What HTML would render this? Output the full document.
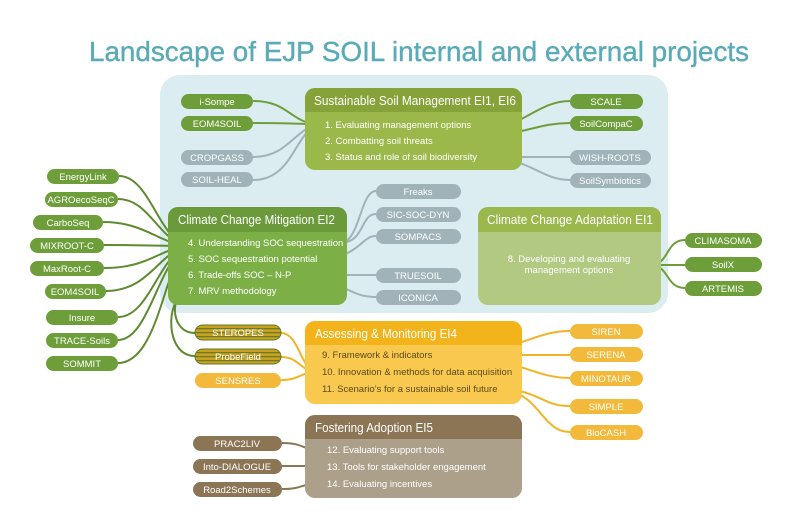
<!DOCTYPE html>
<html><head><meta charset="utf-8"><style>
html,body{margin:0;padding:0;background:#fff}
svg{display:block;font-family:"Liberation Sans",sans-serif}
.p{font-size:9.5px;fill:#fff;text-anchor:middle}
.h{font-size:13px;fill:#fff}
.i{font-size:9.5px;fill:#fff}
.iy{font-size:9.5px;fill:#5a4a20}
path.c{fill:none;stroke-width:2}
</style></head><body>
<svg width="800" height="532" viewBox="0 0 800 532">
<text x="89" y="61" font-size="28" fill="#5aabb7" stroke="#5aabb7" stroke-width="0.4" textLength="660" lengthAdjust="spacingAndGlyphs">Landscape of EJP SOIL internal and external projects</text>
<rect x="160" y="75" width="508" height="238" rx="20" fill="#dcedf2"/>

<g class="lines">
<path class="c" stroke="#6e9e3a" d="M253,101 C290,101 290,124 320,124"/>
<path class="c" stroke="#6e9e3a" d="M253,123 C285,123 295,124 320,124"/>
<path class="c" stroke="#9fb3b9" d="M253,157 C290,157 295,126 320,125"/>
<path class="c" stroke="#9fb3b9" d="M253,180 C295,180 295,127 320,126"/>
<path class="c" stroke="#6e9e3a" d="M420,141 C520,141 530,101 570,101"/>
<path class="c" stroke="#6e9e3a" d="M420,141 C520,141 530,123 570,123"/>
<path class="c" stroke="#9fb3b9" d="M483,157 L570,157"/>
<path class="c" stroke="#9fb3b9" d="M483,157 C530,157 540,180 570,180"/>
<path class="c" stroke="#9fb3b9" d="M340,243 C360,243 360,191 376,191"/>
<path class="c" stroke="#9fb3b9" d="M340,243 C365,243 360,214 376,214"/>
<path class="c" stroke="#9fb3b9" d="M316,259 C360,259 360,236 376,236"/>
<path class="c" stroke="#9fb3b9" d="M290,275 L376,275"/>
<path class="c" stroke="#9fb3b9" d="M290,275 C340,275 345,297 376,297"/>
<g stroke="#5f8a30">
<path class="c" d="M119,176 C150,176 160,242 186,243"/>
<path class="c" d="M118,199 C150,199 160,243 186,244"/>
<path class="c" d="M103,222 C145,222 160,244 186,245"/>
<path class="c" d="M104,245 C150,245 160,246 186,246"/>
<path class="c" d="M104,268 C150,268 160,248 186,247"/>
<path class="c" d="M106,291 C150,291 160,250 186,248"/>
<path class="c" d="M118,317 C150,317 160,252 186,250"/>
<path class="c" d="M118,340 C150,340 160,254 186,252"/>
<path class="c" d="M118,363 C160,363 165,256 186,254"/>
<path class="c" d="M186,290 C170,295 170,333 195,333"/>
<path class="c" d="M186,291 C165,300 165,356 195,356"/>
</g>
<path class="c" stroke="#6e9e3a" d="M650,265 C670,265 665,240 685,240"/>
<path class="c" stroke="#6e9e3a" d="M650,265 L685,265"/>
<path class="c" stroke="#6e9e3a" d="M650,265 C670,265 665,288 685,288"/>
<g stroke="#f0b428">
<path class="c" d="M281,333 C300,333 300,372 318,372"/>
<path class="c" d="M281,357 C300,357 300,372 318,372"/>
<path class="c" d="M281,380 C300,380 300,372 318,372"/>
<path class="c" d="M432,355 C520,355 530,331 570,331"/>
<path class="c" d="M432,355 L570,355"/>
<path class="c" d="M432,355 C520,355 530,378 570,378"/>
<path class="c" d="M496,389 C540,389 540,406 570,406"/>
<path class="c" d="M496,389 C540,389 540,432 570,432"/>
</g>
<g stroke="#8b7555">
<path class="c" d="M282,443 C305,443 300,450 325,450"/>
<path class="c" d="M282,466 L325,466"/>
<path class="c" d="M282,489 C305,489 300,483 325,483"/>
</g>
</g>

<rect x="305" y="88" width="217" height="82" rx="10" fill="#9bb84a"/>
<path d="M305,112 V98 a10,10 0 0 1 10,-10 H512 a10,10 0 0 1 10,10 V112 Z" fill="#86a33a"/>
<text x="314" y="105" class="h" textLength="202" lengthAdjust="spacingAndGlyphs">Sustainable Soil Management EI1, EI6</text>
<text x="325" y="128" class="i">1. Evaluating management options</text>
<text x="325" y="144" class="i">2. Combatting soil threats</text>
<text x="325" y="160" class="i">3. Status and role of soil biodiversity</text>

<rect x="168" y="207" width="179" height="98" rx="10" fill="#7cb047"/>
<path d="M168,232 V217 a10,10 0 0 1 10,-10 H337 a10,10 0 0 1 10,10 V232 Z" fill="#6a9a3a"/>
<text x="178" y="224" class="h" textLength="157" lengthAdjust="spacingAndGlyphs">Climate Change Mitigation EI2</text>
<text x="188" y="246" class="i">4. Understanding SOC sequestration</text>
<text x="188" y="262" class="i">5. SOC sequestration potential</text>
<text x="188" y="278" class="i">6. Trade-offs SOC – N-P</text>
<text x="188" y="294" class="i">7. MRV methodology</text>

<rect x="478" y="207" width="183" height="98" rx="10" fill="#b2c982"/>
<path d="M478,232 V217 a10,10 0 0 1 10,-10 H651 a10,10 0 0 1 10,10 V232 Z" fill="#9ab84c"/>
<text x="487" y="224" class="h" textLength="166" lengthAdjust="spacingAndGlyphs">Climate Change Adaptation EI1</text>
<text x="569" y="262" class="i" text-anchor="middle">8. Developing and evaluating</text>
<text x="569" y="273" class="i" text-anchor="middle">management options</text>

<rect x="305" y="321" width="217" height="83" rx="10" fill="#f8c94e"/>
<path d="M305,345 V331 a10,10 0 0 1 10,-10 H512 a10,10 0 0 1 10,10 V345 Z" fill="#f3b41b"/>
<text x="315" y="338" class="h" textLength="142" lengthAdjust="spacingAndGlyphs">Assessing &amp; Monitoring EI4</text>
<text x="322" y="358" class="iy">9. Framework &amp; indicators</text>
<text x="322" y="375" class="iy">10. Innovation &amp; methods for data acquisition</text>
<text x="322" y="392" class="iy">11. Scenario’s for a sustainable soil future</text>

<rect x="305" y="415" width="217" height="83" rx="10" fill="#ada08a"/>
<path d="M305,439 V425 a10,10 0 0 1 10,-10 H512 a10,10 0 0 1 10,10 V439 Z" fill="#8b7555"/>
<text x="315" y="432" class="h" textLength="118" lengthAdjust="spacingAndGlyphs">Fostering Adoption EI5</text>
<text x="327" y="453" class="i">12. Evaluating support tools</text>
<text x="327" y="470" class="i">13. Tools for stakeholder engagement</text>
<text x="327" y="487" class="i">14. Evaluating incentives</text>

<defs>
<pattern id="st" width="4" height="4" patternUnits="userSpaceOnUse">
<rect width="4" height="4" fill="#c8a21e"/><rect width="4" height="1.3" fill="#6e7a2a"/>
</pattern>
</defs>

<g fill="#6e9e3a">
<rect x="181" y="94" width="72" height="15" rx="7.5"/>
<rect x="181" y="116" width="72" height="15" rx="7.5"/>
<rect x="570" y="94" width="73" height="15" rx="7.5"/>
<rect x="570" y="116" width="73" height="15" rx="7.5"/>
<rect x="47" y="169" width="72" height="15" rx="7.5"/>
<rect x="45" y="192" width="73" height="15" rx="7.5"/>
<rect x="33" y="215" width="70" height="15" rx="7.5"/>
<rect x="30" y="238" width="74" height="15" rx="7.5"/>
<rect x="30" y="261" width="74" height="15" rx="7.5"/>
<rect x="45" y="284" width="61" height="15" rx="7.5"/>
<rect x="46" y="310" width="72" height="15" rx="7.5"/>
<rect x="46" y="333" width="72" height="15" rx="7.5"/>
<rect x="46" y="356" width="72" height="15" rx="7.5"/>
<rect x="685" y="233" width="77" height="15" rx="7.5"/>
<rect x="685" y="257" width="77" height="15" rx="7.5"/>
<rect x="685" y="281" width="77" height="15" rx="7.5"/>
</g>
<g fill="#9fb3b9">
<rect x="181" y="150" width="72" height="15" rx="7.5"/>
<rect x="181" y="172" width="72" height="15" rx="7.5"/>
<rect x="570" y="150" width="81" height="15" rx="7.5"/>
<rect x="570" y="173" width="81" height="15" rx="7.5"/>
<rect x="376" y="184" width="85" height="15" rx="7.5"/>
<rect x="376" y="207" width="85" height="15" rx="7.5"/>
<rect x="376" y="229" width="85" height="15" rx="7.5"/>
<rect x="376" y="268" width="85" height="15" rx="7.5"/>
<rect x="376" y="290" width="85" height="15" rx="7.5"/>
</g>
<rect x="195" y="325" width="86" height="15" rx="7.5" fill="url(#st)" stroke="#5f7a2a"/>
<rect x="195" y="349" width="86" height="15" rx="7.5" fill="url(#st)" stroke="#5f7a2a"/>
<g fill="#f3b93a">
<rect x="195" y="373" width="86" height="15" rx="7.5"/>
<rect x="570" y="324" width="73" height="15" rx="7.5"/>
<rect x="570" y="347" width="73" height="15" rx="7.5"/>
<rect x="570" y="371" width="73" height="15" rx="7.5"/>
<rect x="570" y="399" width="73" height="15" rx="7.5"/>
<rect x="570" y="425" width="73" height="15" rx="7.5"/>
</g>
<g fill="#8b7555">
<rect x="193" y="436" width="89" height="15" rx="7.5"/>
<rect x="193" y="459" width="89" height="15" rx="7.5"/>
<rect x="193" y="482" width="89" height="15" rx="7.5"/>
</g>
<g>
<text class="p" x="217" y="105">i-Sompe</text>
<text class="p" x="217" y="127">EOM4SOIL</text>
<text class="p" x="217" y="161">CROPGASS</text>
<text class="p" x="217" y="183">SOIL-HEAL</text>
<text class="p" x="606" y="105">SCALE</text>
<text class="p" x="606" y="127">SoilCompaC</text>
<text class="p" x="610" y="161">WISH-ROOTS</text>
<text class="p" x="610" y="184">SoilSymbiotics</text>
<text class="p" x="418" y="195">Freaks</text>
<text class="p" x="418" y="218">SIC-SOC-DYN</text>
<text class="p" x="418" y="240">SOMPACS</text>
<text class="p" x="418" y="279">TRUESOIL</text>
<text class="p" x="418" y="301">ICONICA</text>
<text class="p" x="83" y="180">EnergyLink</text>
<text class="p" x="81" y="203">AGROecoSeqC</text>
<text class="p" x="68" y="226">CarboSeq</text>
<text class="p" x="67" y="249">MIXROOT-C</text>
<text class="p" x="67" y="272">MaxRoot-C</text>
<text class="p" x="75" y="295">EOM4SOIL</text>
<text class="p" x="82" y="321">Insure</text>
<text class="p" x="82" y="344">TRACE-Soils</text>
<text class="p" x="82" y="367">SOMMIT</text>
<text class="p" x="723" y="244">CLIMASOMA</text>
<text class="p" x="723" y="268">SoilX</text>
<text class="p" x="723" y="292">ARTEMIS</text>
<text class="p" x="238" y="336">STEROPES</text>
<text class="p" x="238" y="360">ProbeField</text>
<text class="p" x="238" y="384">SENSRES</text>
<text class="p" x="606" y="335">SIREN</text>
<text class="p" x="606" y="358">SERENA</text>
<text class="p" x="606" y="382">MINOTAUR</text>
<text class="p" x="606" y="410">SIMPLE</text>
<text class="p" x="606" y="436">BioCASH</text>
<text class="p" x="237" y="447">PRAC2LIV</text>
<text class="p" x="237" y="470">Into-DIALOGUE</text>
<text class="p" x="237" y="493">Road2Schemes</text>
</g>
</svg>
</body></html>
